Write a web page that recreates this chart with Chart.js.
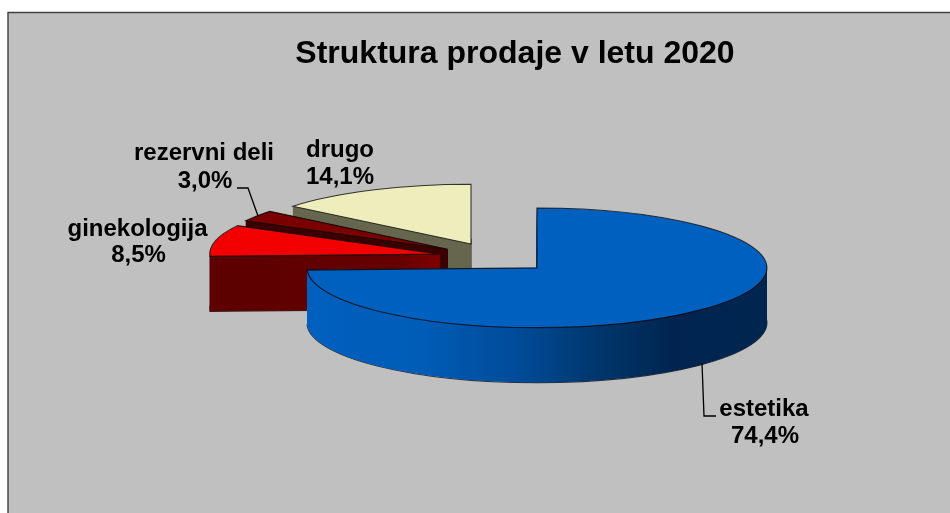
<!DOCTYPE html>
<html>
<head>
<meta charset="utf-8">
<style>html,body{margin:0;padding:0;background:#fff;overflow:hidden}canvas{display:block}</style>
<script src="https://cdn.jsdelivr.net/npm/chart.js@4/dist/chart.umd.min.js"></script>
</head>
<body>
<canvas id="c" width="950" height="513"></canvas>
<script>
const titleText = 'Struktura prodaje v letu 2020';
const categories = ['estetika', 'ginekologija', 'rezervni deli', 'drugo'];
const shares = [74.4, 8.5, 3.0, 14.1];
const topColors = ['#0060BF', '#F20000', '#7A0000', '#EEEEBC'];
const wallColors = ['', '#660000', '#3A0000', '#66664F'];

const FONT = '"Liberation Sans", Arial, sans-serif';
const centre = {x: 495.6, y: 257.5};
const tilt = 0.26, explode = 57.4, depth = 55, radius = 230;
const labelBoxes = [
  {x: 764, y: 409, vx: 765, vy: 436},
  {x: 137.5, y: 229, vx: 138.5, vy: 255},
  {x: 204, y: 153, vx: 205, vy: 181},
  {x: 340, y: 150, vx: 340, vy: 177}
];
const leaders = [
  [[702, 363], [704, 416], [716, 416]],
  null,
  [[237, 188], [248, 188], [258, 216]],
  null
];

function sector(ctx, cx, cy, r, a0, a1) {
  ctx.beginPath();
  ctx.moveTo(cx, cy);
  ctx.ellipse(cx, cy, r, r * tilt, 0, a0, a1);
  ctx.closePath();
}

function cutFace(ctx, cx, cy, r, a) {
  const ex = cx + Math.cos(a) * r, ey = cy + Math.sin(a) * r * tilt;
  ctx.beginPath();
  ctx.moveTo(cx, cy);
  ctx.lineTo(ex, ey);
  ctx.lineTo(ex, ey + depth);
  ctx.lineTo(cx, cy + depth);
  ctx.closePath();
  ctx.fill();
}

function wallFill(ctx, i) {
  if (i === 0) {
    const g = ctx.createLinearGradient(308, 0, 767, 0);
    g.addColorStop(0, '#0060BE');
    g.addColorStop(0.25, '#005CB6');
    g.addColorStop(0.45, '#004C9A');
    g.addColorStop(0.65, '#003468');
    g.addColorStop(0.8, '#00244F');
    g.addColorStop(1, '#002650');
    return g;
  }
  if (i === 1) {
    const g = ctx.createLinearGradient(210, 0, 445, 0);
    g.addColorStop(0, '#5C0000');
    g.addColorStop(0.8, '#660000');
    g.addColorStop(1, '#820000');
    return g;
  }
  return wallColors[i];
}

const pie3d = {
  id: 'pie3d',
  beforeDraw(chart) {
    const ctx = chart.ctx;
    ctx.save();
    ctx.fillStyle = '#C0C0C0';
    ctx.fillRect(8, 12.5, 942, 501);
    ctx.strokeStyle = '#404040';
    ctx.lineWidth = 1.4;
    ctx.beginPath();
    ctx.moveTo(8, 513);
    ctx.lineTo(8, 12.5);
    ctx.lineTo(950, 12.5);
    ctx.stroke();
    ctx.restore();
  },
  beforeDatasetDraw(chart, args) {
    const ctx = chart.ctx;
    const arcs = args.meta.data;
    [3, 2, 1, 0].forEach(i => {
      const arc = arcs[i];
      const a0 = arc.startAngle, a1 = arc.endAngle, mid = (a0 + a1) / 2;
      const cx = centre.x + Math.cos(mid) * explode;
      const cy = centre.y + Math.sin(mid) * explode * tilt;
      const r = arc.outerRadius;
      ctx.save();
      ctx.strokeStyle = 'rgba(10,10,10,0.8)';
      ctx.lineWidth = 1.1;
      sector(ctx, cx, cy + depth, r, a0, a1);
      ctx.stroke();
      ctx.fillStyle = wallFill(ctx, i);
      for (let k = depth; k >= 1; k--) {
        sector(ctx, cx, cy + k, r, a0, a1);
        ctx.fill();
      }
      cutFace(ctx, cx, cy, r, a0);
      cutFace(ctx, cx, cy, r, a1);
      ctx.restore();

      ctx.save();
      ctx.translate(cx, cy);
      ctx.scale(1, tilt);
      ctx.translate(-arc.x, -arc.y);
      arc.draw(ctx);
      ctx.restore();

      ctx.save();
      ctx.strokeStyle = 'rgba(10,10,10,0.8)';
      ctx.lineWidth = 1.1;
      sector(ctx, cx, cy, r, a0, a1);
      ctx.stroke();
      ctx.restore();
    });
    return false;
  },
  afterDatasetsDraw(chart) {
    const ctx = chart.ctx;
    ctx.save();
    ctx.strokeStyle = '#000';
    ctx.lineWidth = 1.3;
    leaders.forEach(l => {
      if (!l) return;
      ctx.beginPath();
      l.forEach((p, j) => j ? ctx.lineTo(p[0], p[1]) : ctx.moveTo(p[0], p[1]));
      ctx.stroke();
    });
    ctx.fillStyle = '#000';
    ctx.font = 'bold 24px ' + FONT;
    ctx.textAlign = 'center';
    ctx.textBaseline = 'middle';
    categories.forEach((name, i) => {
      const b = labelBoxes[i];
      ctx.fillText(name, b.x, b.y);
      ctx.fillText(shares[i].toFixed(1).replace('.', ',') + '%', b.vx, b.vy);
    });
    ctx.restore();
  }
};

new Chart(document.getElementById('c'), {
  type: 'pie',
  data: {
    labels: categories,
    datasets: [{data: shares, backgroundColor: topColors, borderWidth: 0}]
  },
  options: {
    responsive: false,
    animation: false,
    radius: radius,
    layout: {padding: {left: 80, top: 20}},
    plugins: {
      legend: {display: false},
      tooltip: {enabled: false},
      title: {
        display: true,
        text: titleText,
        color: '#000',
        font: {family: FONT, size: 32, weight: 'bold'},
        padding: {top: 15, bottom: 10}
      }
    }
  },
  plugins: [pie3d]
});
</script>
</body>
</html>
